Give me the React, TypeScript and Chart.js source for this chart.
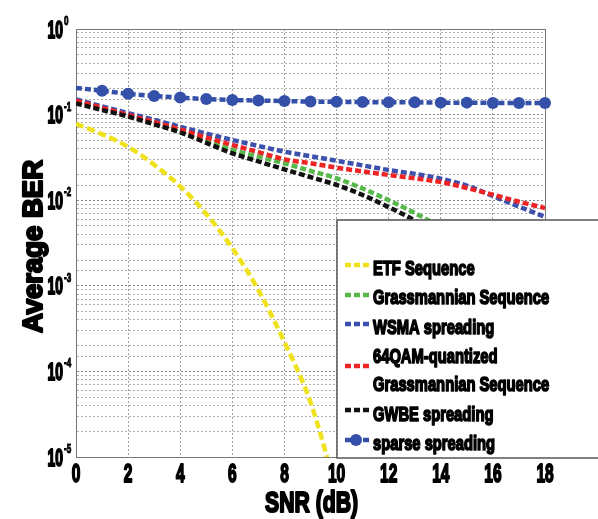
import React, { useEffect, useRef } from "react";
import { Chart, registerables } from "chart.js";

Chart.register(...registerables);

// ---- data ----
const snr = [0, 1, 2, 3, 4, 5, 6, 7, 8, 9, 10, 11, 12, 13, 14, 15, 16, 17, 18];
const etfBer = [0.078, 0.059, 0.042, 0.026, 0.0145, 0.0069, 0.00275, 0.00089, 0.00022, 0.0000437, 0.000004];
const grassBer = [0.142, 0.118, 0.097, 0.079, 0.064, 0.05, 0.0386, 0.0323, 0.027, 0.022, 0.018, 0.0137, 0.01, 0.0071, 0.0048, 0.003, 0.0018, 0.0011, 0.0007];
const wsmaBer = [0.15, 0.125, 0.104, 0.087, 0.072, 0.06, 0.0505, 0.043, 0.0369, 0.0327, 0.0289, 0.0255, 0.0225, 0.0203, 0.0178, 0.0148, 0.0112, 0.0084, 0.0064];
const qamBer = [0.145, 0.12, 0.099, 0.082, 0.067, 0.054, 0.0441, 0.0365, 0.03, 0.027, 0.024, 0.0217, 0.0197, 0.018, 0.0163, 0.0139, 0.0116, 0.0096, 0.0081];
const gwbeBer = [0.135, 0.113, 0.095, 0.077, 0.062, 0.0468, 0.0353, 0.0284, 0.0229, 0.0186, 0.0151, 0.0115, 0.0083, 0.0058, 0.0037, 0.0022, 0.0013, 0.0007, 0.0004];
const sparseBer = [0.205, 0.19, 0.175, 0.165, 0.158, 0.152, 0.148, 0.146, 0.144, 0.142, 0.141, 0.14, 0.139, 0.139, 0.138, 0.138, 0.137, 0.137, 0.137];

const seriesNames = [
  "ETF Sequence",
  "Grassmannian Sequence",
  "WSMA spreading",
  "64QAM-quantized Grassmannian Sequence",
  "GWBE spreading",
  "sparse spreading",
];
const legendLines = [
  ["ETF Sequence"],
  ["Grassmannian Sequence"],
  ["WSMA spreading"],
  ["64QAM-quantized", "Grassmannian Sequence"],
  ["GWBE spreading"],
  ["sparse spreading"],
];
const xTickValues = [0, 2, 4, 6, 8, 10, 12, 14, 16, 18];
const yTickValues = [1, 0.1, 0.01, 0.001, 0.0001, 0.00001];
const yTickBase = "10";
const yTickExponents = ["0", "-1", "-2", "-3", "-4", "-5"];
const xTitle = "SNR (dB)";
const yTitle = "Average BER";

const colors = ["#efe11c", "#55b848", "#3d50ad", "#ee2424", "#111111", "#3550a8"];

const SANS = "'Liberation Sans', Arial, sans-serif";

const toPts = (ys: number[]) => ys.map((y, i) => ({ x: snr[i], y }));

function squishText(
  ctx: CanvasRenderingContext2D,
  text: string,
  x: number,
  y: number,
  size: number,
  opts: { sx?: number; width?: number; align?: "left" | "right" | "center"; stroke?: number }
) {
  ctx.save();
  ctx.font = `bold ${size}px ${SANS}`;
  ctx.textBaseline = "alphabetic";
  ctx.textAlign = "left";
  const natural = ctx.measureText(text).width;
  const sx = opts.width ? opts.width / natural : opts.sx ?? 1;
  const w = natural * sx;
  const align = opts.align ?? "left";
  const x0 = align === "left" ? x : align === "right" ? x - w : x - w / 2;
  ctx.translate(x0, y);
  ctx.scale(sx, 1);
  ctx.fillStyle = "#000";
  ctx.fillText(text, 0, 0);
  if (opts.stroke) {
    ctx.strokeStyle = "#000";
    ctx.lineWidth = opts.stroke;
    ctx.lineJoin = "round";
    ctx.strokeText(text, 0, 0);
  }
  ctx.restore();
}

const textPlugin = {
  id: "axisText",
  beforeDatasetsDraw(chart: any) {
    const { ctx, chartArea: a } = chart;
    ctx.save();
    ctx.strokeStyle = "#777";
    ctx.lineWidth = 1;
    ctx.strokeRect(a.left + 0.5, a.top + 0.5, a.right - a.left, a.bottom - a.top);
    ctx.restore();
  },
  afterDraw(chart: any) {
    const { ctx, scales } = chart;
    const xs = scales.x;
    const ys = scales.y;
    // y tick labels with superscript exponents
    yTickValues.forEach((v, i) => {
      const gy = ys.getPixelForValue(v);
      squishText(ctx, yTickBase, 63, gy + 8.5, 23.5, { width: 15.5, align: "right", stroke: 1.9 });
      squishText(ctx, yTickExponents[i], 64, gy - 4, 13, { sx: 0.62, align: "left", stroke: 1 });
    });
    // x tick labels
    xTickValues.forEach((v) => {
      const gx = xs.getPixelForValue(v);
      squishText(ctx, String(v), gx, 481.5, 25, { sx: 0.62, align: "center", stroke: 1.9 });
    });
    // x title
    squishText(ctx, xTitle, 311.5, 511.5, 30, { width: 93, align: "center", stroke: 2.2 });
    // y title (rotated)
    ctx.save();
    ctx.translate(42, 246.5);
    ctx.rotate(-Math.PI / 2);
    squishText(ctx, yTitle, 0, 0, 27.5, { width: 173, align: "center", stroke: 2.2 });
    ctx.restore();

    // legend box
    const bx = 337, by = 220, bw = 280, bh = 238;
    ctx.save();
    ctx.fillStyle = "#ffffff";
    ctx.fillRect(bx, by, bw, bh);
    ctx.strokeStyle = "#555";
    ctx.lineWidth = 1.5;
    ctx.strokeRect(bx, by, bw, bh);
    ctx.font = `bold 21px ${SANS}`;
    const legSx = 101.6 / ctx.measureText("ETF Sequence").width;
    const sampleY = [265, 295, 324, 366, 410, 440];
    const baseY = [[274.5], [304], [333.5], [363, 390.5], [420.5], [449.5]];
    chart.data.datasets.forEach((ds: any, i: number) => {
      const yc = sampleY[i];
      ctx.strokeStyle = ds.borderColor;
      ctx.lineWidth = 4.5;
      ctx.setLineDash([6, 3]);
      ctx.beginPath();
      ctx.moveTo(345, yc);
      ctx.lineTo(370, yc);
      ctx.stroke();
      ctx.setLineDash([]);
      if (i === 5) {
        ctx.fillStyle = ds.borderColor;
        ctx.beginPath();
        ctx.arc(356, yc, 6, 0, Math.PI * 2);
        ctx.fill();
      }
      legendLines[i].forEach((t, k) => {
        squishText(ctx, t, 373, baseY[i][k], 21, { sx: legSx, align: "left", stroke: 1.7 });
      });
    });
    ctx.restore();
  },
};

export default function App() {
  const ref = useRef<HTMLCanvasElement | null>(null);
  useEffect(() => {
    if (!ref.current) return;
    const all = [etfBer, grassBer, wsmaBer, qamBer, gwbeBer, sparseBer];
    const datasets = all.map((vals, i) => ({
      label: seriesNames[i],
      data: toPts(vals),
      borderColor: colors[i],
      backgroundColor: colors[i],
      borderWidth: 4.5,
      borderDash: i === 0 ? [8, 4] : [6, 3],
      borderCapStyle: "butt",
      cubicInterpolationMode: "monotone",
      pointRadius: i === 5 ? snr.map((_, k) => (k === 0 ? 0 : 6)) : 0,
      pointBorderWidth: 0,
      pointStyle: "circle",
      fill: false,
      order: 6 - i,
      clip: i === 5 ? 8 : undefined,
    }));
    const chart = new Chart(ref.current, {
      type: "line",
      data: { datasets } as any,
      options: {
        animation: false,
        responsive: false,
        devicePixelRatio: 1,
        layout: { padding: { left: 0, top: 29, right: 53, bottom: 0 } },
        plugins: { legend: { display: false }, tooltip: { enabled: false } },
        scales: {
          x: {
            type: "linear",
            min: 0,
            max: 18,
            afterBuildTicks: (s: any) => {
              s.ticks = xTickValues.map((v) => ({ value: v }));
            },
            afterFit: (s: any) => {
              s.height = 62;
            },
            ticks: { display: false, autoSkip: false },
            grid: { color: "#a0a0a0", lineWidth: 1, drawTicks: false },
            border: { display: true, color: "#777", dash: [2, 2] },
            title: { display: false, text: xTitle },
          },
          y: {
            type: "logarithmic",
            min: 1e-5,
            max: 1,
            afterFit: (s: any) => {
              s.width = 76;
            },
            ticks: { display: false, autoSkip: false },
            grid: {
              color: (c: any) => {
                const v = c.tick ? c.tick.value : 1;
                const e = Math.log10(v);
                return Math.abs(e - Math.round(e)) < 1e-6 ? "#888888" : "#b0b0b0";
              },
              lineWidth: 1,
              drawTicks: false,
            },
            border: { display: true, color: "#777", dash: [2, 2] },
            title: { display: false, text: yTitle },
          },
        },
      } as any,
      plugins: [textPlugin],
    });
    return () => chart.destroy();
  }, []);
  return (
    <div style={{ position: "absolute", left: 0, top: 0, width: 598, height: 519, background: "#fff" }}>
      <canvas ref={ref} width={598} height={519} style={{ display: "block" }} />
    </div>
  );
}
